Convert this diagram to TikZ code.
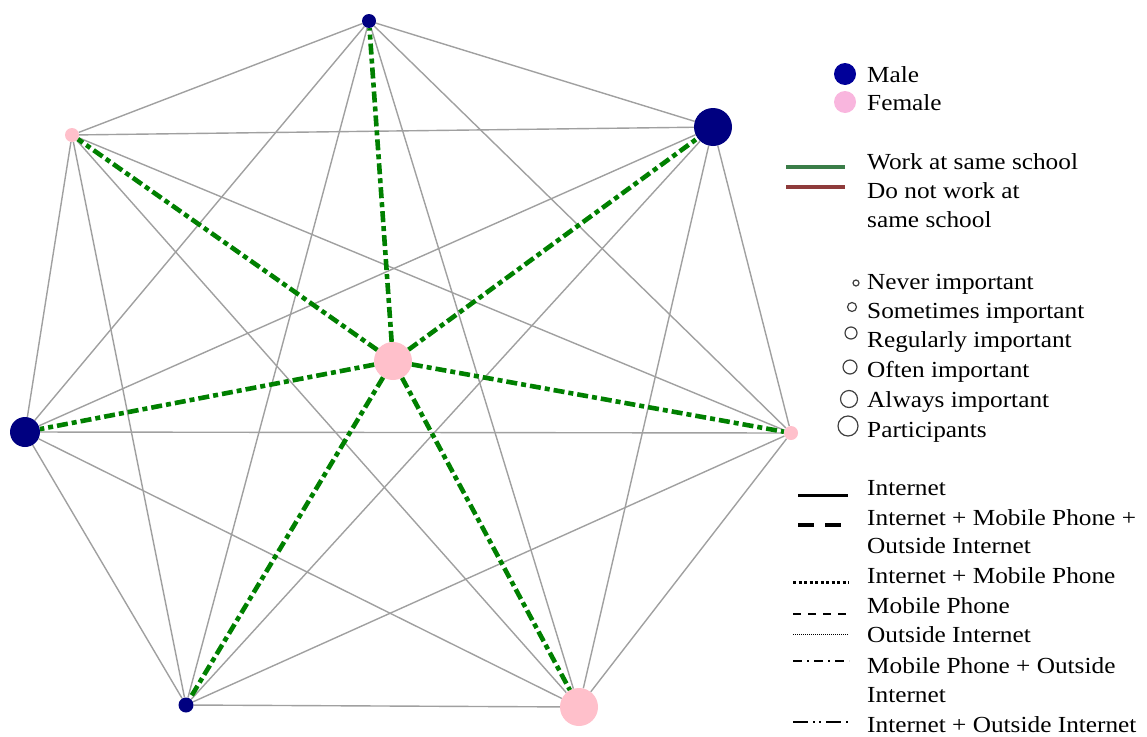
\documentclass[tikz,border=0pt]{standalone}
\usepackage{fontspec}
\setmainfont{Liberation Serif}[FakeStretch=1.1]
\usetikzlibrary{backgrounds}
\definecolor{navyc}{HTML}{000080}
\definecolor{pinkc}{HTML}{FFC0CB}
\definecolor{lgpink}{HTML}{F9B6DE}
\definecolor{lgnavy}{HTML}{000099}
\definecolor{edgegray}{HTML}{A0A0A0}
\definecolor{ggreen}{HTML}{008000}
\definecolor{lggreen}{HTML}{3A7D48}
\definecolor{lgred}{HTML}{8E3B3B}
\tikzset{
  vtx/.style={circle, inner sep=0pt, draw=none},
  malev/.style={vtx, fill=navyc},
  femalev/.style={vtx, fill=pinkc},
  grayedge/.style={draw=edgegray, line width=1.4pt},
  greenedge/.style={draw=ggreen, line width=4.6pt, dash pattern=on 11pt off 4pt on 5pt off 4pt},
  lbl/.style={anchor=base west, inner sep=0pt, font=\fontsize{23}{29}\selectfont},
  opencirc/.style={circle, draw=black!75, line width=1.2pt, inner sep=0pt, fill=white},
  lgline/.style={line width=1.5pt, black}
}
\begin{document}
\begin{tikzpicture}[x=1pt, y=-1pt]
\useasboundingbox (0,0) rectangle (1147,736);
% vertices
\node[malev, minimum size=14pt] (T) at (369,21) {};
\node[femalev, minimum size=14pt] (UL) at (72,135) {};
\node[malev, minimum size=38pt] (UR) at (713,127) {};
\node[malev, minimum size=30pt] (L) at (25,432) {};
\node[femalev, minimum size=14pt] (R) at (791,433) {};
\node[malev, minimum size=15pt] (BL) at (186,705) {};
\node[femalev, minimum size=38pt] (BR) at (579,707) {};
\node[femalev, minimum size=38pt] (C) at (393,361) {};
\begin{pgfonlayer}{background}
\foreach \a/\b in {T/UL,T/UR,T/L,T/R,T/BL,T/BR,UL/UR,UL/L,UL/R,UL/BL,UL/BR,UR/L,UR/R,UR/BL,UR/BR,L/R,L/BL,L/BR,R/BL,R/BR,BL/BR}
  \draw[grayedge] (\a) -- (\b);
\end{pgfonlayer}
\foreach \b in {T,UL,UR,L,R,BL,BR}
  \draw[greenedge] (C) -- (\b);
% legend: gender
\node[vtx, fill=lgnavy, minimum size=22pt] (lm) at (845,74) {};
\node[lbl] (tm) at (867,82) {Male};
\node[vtx, fill=lgpink, minimum size=22pt] (lf) at (845,102) {};
\node[lbl] (tf) at (867,110) {Female};
% legend: school
\coordinate (g1) at (786,167); \coordinate (g2) at (845,167);
\draw[lggreen, line width=4pt] (g1) -- (g2);
\coordinate (r1) at (786,187); \coordinate (r2) at (845,187);
\draw[lgred, line width=4pt] (r1) -- (r2);
\node[lbl] (tw) at (867,169) {Work at same school};
\node[lbl] (td1) at (867,198) {Do not work at};
\node[lbl] (td2) at (867,227) {same school};
% legend: importance
\node[opencirc, minimum size=6pt] (c1) at (856,283) {};
\node[lbl] (t1) at (867,289) {Never important};
\node[opencirc, minimum size=9pt] (c2) at (852,307) {};
\node[lbl] (t2) at (867,318) {Sometimes important};
\node[opencirc, minimum size=12pt] (c3) at (851,333) {};
\node[lbl] (t3) at (867,347) {Regularly important};
\node[opencirc, minimum size=14pt] (c4) at (850,367) {};
\node[lbl] (t4) at (867,377) {Often important};
\node[opencirc, minimum size=17pt] (c5) at (849,399) {};
\node[lbl] (t5) at (867,407) {Always important};
\node[opencirc, minimum size=20pt] (c6) at (848,426) {};
\node[lbl] (t6) at (867,437) {Participants};
% legend: media
\coordinate (m1a) at (798,495); \coordinate (m1b) at (848,495);
\draw[black, line width=3pt] (m1a) -- (m1b);
\node[lbl] (tm1) at (867,495) {Internet};
\coordinate (m2a) at (798,525); \coordinate (m2b) at (849,525);
\draw[black, line width=3.5pt, dash pattern=on 16pt off 11pt] (m2a) -- (m2b);
\node[lbl] (tm2a) at (867,525) {Internet + Mobile Phone +};
\node[lbl] (tm2b) at (867,553) {Outside Internet};
\coordinate (m3a) at (793,582); \coordinate (m3b) at (849,582);
\draw[black, line width=3pt, dash pattern=on 3pt off 2.5pt] (m3a) -- (m3b);
\node[lbl] (tm3) at (867,583) {Internet + Mobile Phone};
\coordinate (m4a) at (793,614); \coordinate (m4b) at (849,614);
\draw[lgline, dash pattern=on 8pt off 7pt] (m4a) -- (m4b);
\node[lbl] (tm4) at (867,613) {Mobile Phone};
\coordinate (m5a) at (793,634); \coordinate (m5b) at (849,634);
\draw[black, line width=1pt, dash pattern=on 1pt off 1pt] (m5a) -- (m5b);
\node[lbl] (tm5) at (867,642) {Outside Internet};
\coordinate (m6a) at (793,661); \coordinate (m6b) at (849,661);
\draw[lgline, dash pattern=on 9pt off 5pt on 2pt off 5pt] (m6a) -- (m6b);
\node[lbl] (tm6a) at (867,673) {Mobile Phone + Outside};
\node[lbl] (tm6b) at (867,702) {Internet};
\coordinate (m7a) at (793,722); \coordinate (m7b) at (849,722);
\draw[lgline, dash pattern=on 15pt off 5pt on 2pt off 4pt on 2pt off 5pt] (m7a) -- (m7b);
\node[lbl] (tm7) at (867,732) {Internet + Outside Internet};
\end{tikzpicture}
\end{document}
